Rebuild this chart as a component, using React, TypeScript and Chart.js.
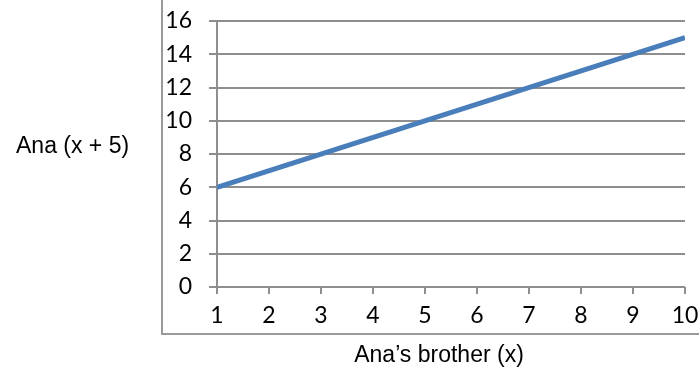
import React, { useEffect, useRef } from "react";
import { Chart, registerables } from "chart.js";

Chart.register(...registerables);

const xValues = [1, 10];
const yValues = [6, 15];
const xTicks = [1, 2, 3, 4, 5, 6, 7, 8, 9, 10];
const yTicks = [0, 2, 4, 6, 8, 10, 12, 14, 16];
const yTitle = "Ana (x + 5)";
const xTitle = "Ana\u2019s brother (x)";

const framePlugin = {
  id: "frame",
  afterDraw(chart: any) {
    const ctx = chart.ctx;
    ctx.save();
    ctx.strokeStyle = "#9a9a9a";
    ctx.lineWidth = 2;
    ctx.beginPath();
    ctx.moveTo(162, 0);
    ctx.lineTo(162, 334);
    ctx.lineTo(699, 334);
    ctx.stroke();
    ctx.fillStyle = "#000";
    ctx.font = "23px 'Liberation Sans', Arial, sans-serif";
    ctx.textBaseline = "alphabetic";
    ctx.textAlign = "left";
    ctx.fillText(yTitle, 16, 153);
    ctx.textAlign = "center";
    ctx.fillText(xTitle, 439, 362);
    ctx.restore();
  },
};

export default function App() {
  const ref = useRef<HTMLCanvasElement>(null);
  useEffect(() => {
    if (!ref.current) return;
    const chart = new Chart(ref.current, {
      type: "line",
      data: {
        datasets: [
          {
            data: xValues.map((x, i) => ({ x, y: yValues[i] })),
            borderColor: "#4a7ebb",
            borderWidth: 5,
            pointRadius: 0,
            fill: false,
          },
        ],
      },
      options: {
        animation: false,
        responsive: false,
        layout: { padding: { left: 161, right: 14, top: 21, bottom: 0 } },
        plugins: { legend: { display: false }, tooltip: { enabled: false } },
        scales: {
          x: {
            type: "linear",
            min: xTicks[0],
            max: xTicks[xTicks.length - 1],
            afterBuildTicks: (s: any) => {
              s.ticks = xTicks.map((v) => ({ value: v }));
            },
            afterFit: (s: any) => {
              s.height = 81;
              s.paddingLeft = 0;
              s.paddingRight = 0;
              s.paddingTop = 0;
              s.paddingBottom = 0;
            },
            grid: {
              drawOnChartArea: false,
              drawTicks: true,
              tickLength: 7,
              color: "#8e8e8e",
              lineWidth: 2,
            },
            border: { display: false },
            ticks: {
              color: "#000",
              font: { family: "Lato, 'Open Sans', sans-serif", size: 23 },
              padding: 8,
              maxRotation: 0,
              autoSkip: false,
            },
          },
          y: {
            min: yTicks[0],
            max: yTicks[yTicks.length - 1],
            afterBuildTicks: (s: any) => {
              s.ticks = yTicks.map((v) => ({ value: v }));
            },
            afterFit: (s: any) => {
              s.width = 56;
              s.paddingLeft = 0;
              s.paddingRight = 0;
              s.paddingTop = 0;
              s.paddingBottom = 0;
            },
            grid: {
              drawTicks: true,
              tickLength: 8,
              color: "#8e8e8e",
              lineWidth: 2,
            },
            border: { display: true, color: "#8e8e8e", width: 2 },
            ticks: {
              color: "#000",
              font: { family: "Lato, 'Open Sans', sans-serif", size: 23 },
              padding: 17,
              autoSkip: false,
            },
          },
        },
      },
      plugins: [framePlugin],
    });
    return () => chart.destroy();
  }, []);
  return (
    <div style={{ position: "fixed", left: 0, top: 0, width: 699, height: 368, background: "#fff" }}>
      <canvas ref={ref} width={699} height={368} style={{ width: 699, height: 368, display: "block" }} />
    </div>
  );
}
